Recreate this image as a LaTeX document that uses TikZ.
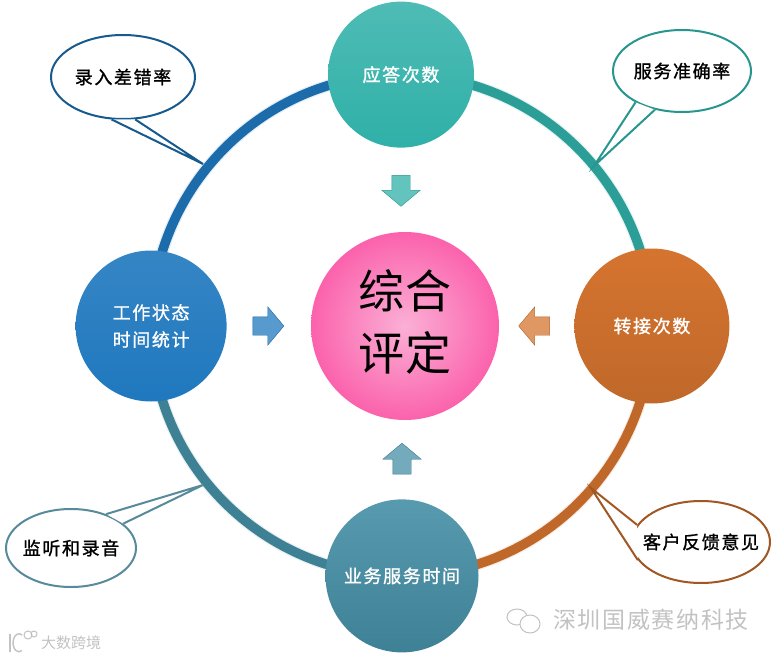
\documentclass[tikz,border=0pt]{standalone}
\usepackage{fontspec}
\usepackage{tikz}
\usetikzlibrary{positioning, shapes.arrows, shapes.geometric, backgrounds}
\setmainfont{Noto Sans CJK SC}
\newfontfamily\cjkbold[LetterSpace=9,FakeBold=1.2]{Noto Sans CJK SC}
\newfontfamily\cjkmark[LetterSpace=7]{Noto Sans CJK SC}
\newcommand{\qipao}[1]{\makebox[0pt]{#1}}
\definecolor{tealc}{HTML}{2FB0A8}
\definecolor{bluec}{HTML}{1F78BE}
\definecolor{orangec}{HTML}{D5742F}
\definecolor{seac}{HTML}{458FA6}
\definecolor{pinkin}{HTML}{FBB0D6}
\definecolor{pinkout}{HTML}{FB62AC}

\begin{document}
\begin{tikzpicture}[x=1pt, y=-1pt,
      ball/.style={circle, minimum size=153pt, inner sep=0pt, align=center, text=white,
        font=\fontsize{18}{27}\cjkbold},
      pinkball/.style={circle, minimum size=188pt, inner sep=0pt,
        inner color=pinkin, outer color=pinkout},
      bigtext/.style={align=center, text=black, font=\fontsize{46}{62}\selectfont\addfontfeature{LetterSpace=4}},
      ring/.style={draw=#1, line width=9.5pt, distance=138pt, preaction={draw=#1!12, line width=12pt}},
      jiantou/.style={single arrow, minimum height=31pt, inner ysep=9pt, inner xsep=0pt,
        single arrow head extend=10pt, single arrow tip angle=100, draw=#1!85!black, fill=#1!75!white, line width=0.4pt},
      bubble/.style={ellipse, draw=#1, line width=2pt, fill=white, inner sep=0pt,
        minimum width=138pt, minimum height=82pt,
        font=\fontsize{18}{20}\cjkbold},
      tail/.style={draw=#1, line width=2pt, fill=white, line join=miter},
      shuiyin/.style={text=black!24, font=\fontsize{23}{23}\cjkmark}
    ]
    \useasboundingbox (0,0) rectangle (774,658);
    \node[pinkball] (zonghe) at (405,326) {};
    \node[bigtext, yshift=4pt] (pingding) at (zonghe) {综合\\评定};
    \node[ball, minimum size=146pt, top color=tealc!85!white, bottom color=tealc, above=84pt of zonghe, xshift=-4pt] (yingda) {应答次数};
    \node[ball, minimum size=151pt, top color=bluec!90!white, bottom color=bluec, left=84pt of zonghe] (gongzuo) {工作状态\\时间统计};
    \node[ball, minimum size=155pt, top color=orangec, bottom color=orangec!90!black, right=75pt of zonghe] (zhuanjie) {转接次数};
    \node[ball, top color=seac!90!white, bottom color=seac!90!black, below=79pt of zonghe, xshift=-3pt] (yewu) {业务服务时间};
    \begin{scope}[on background layer]
      \draw[ring=bluec!90!black] (yingda.center) to[out=180, in=90] (gongzuo.center);
      \draw[ring=tealc!90!black] (yingda.center) to[out=0, in=90] (zhuanjie.center);
      \draw[ring=orangec!90!black] (zhuanjie.center) to[out=-90, in=0] (yewu.center);
      \draw[ring=seac!90!black] (gongzuo.center) to[out=-90, in=180] (yewu.center);
    \end{scope}
    \node[jiantou=tealc, rotate=-90] (jt1) at (401,187) {};
    \node[jiantou=bluec, rotate=0] (jt2) at (264.5,326) {};
    \node[jiantou=orangec, rotate=180] (jt3) at (538,326) {};
    \node[jiantou=seac, rotate=90] (jt4) at (402,462.5) {};
    % bubbles
    \coordinate (tip1) at (203,164);
    \coordinate (tip2) at (594,166);
    \coordinate (tip3) at (203,485);
    \coordinate (tip4) at (591,488);
    \node[bubble=bluec!75!black, minimum width=144pt, minimum height=84pt] (luru) at (123,77) {\qipao{录入差错率}};
    \node[bubble=tealc!85!black] (zhunque) at (682,71) {\qipao{服务准确率}};
    \node[bubble=seac!70!gray, minimum width=130pt, minimum height=78pt] (jianting) at (71,548) {\qipao{监听和录音}};
    \node[bubble=orangec!75!black] (kehu) at (701,542) {\qipao{客户反馈意见}};
    \filldraw[tail=bluec!75!black] (luru.255) -- (tip1) -- (luru.286);
    \filldraw[tail=tealc!85!black] (zhunque.214) -- (tip2) -- (zhunque.235);
    \filldraw[tail=seac!70!gray] (jianting.44) -- (tip3) -- (jianting.25);
    \filldraw[tail=orangec!75!black] (kehu.165) -- (tip4) -- (kehu.196);
    % watermarks
    \node[shuiyin] (weixin) at (651,620) {深圳国威赛纳科技};
    \node[shuiyin, font=\fontsize{15}{15}\selectfont] (dashu) at (71,643) {大数跨境};
    \draw[black!24, line width=1pt, fill=white] (517,617) ellipse (10pt and 8pt);
    \draw[black!24, line width=1pt, fill=white] (530,624) ellipse (10pt and 9pt);
    \draw[black!24, line width=1.4pt] (10,634) -- (10,652);
    \draw[black!24, line width=1.4pt] (22,635) arc (60:300:6pt and 9pt);
    \draw[black!24, line width=1pt] (28,635) circle (4pt) (34,634) circle (3pt);
  \end{tikzpicture}
\end{document}
